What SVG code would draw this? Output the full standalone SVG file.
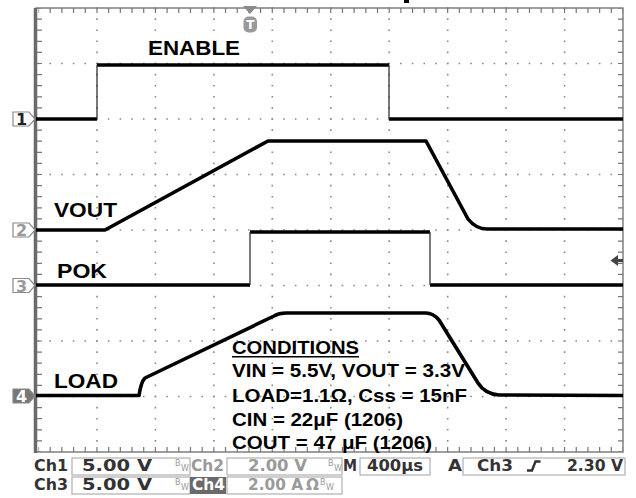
<svg xmlns="http://www.w3.org/2000/svg" width="636" height="498" viewBox="0 0 636 498">
<style>
.grid{stroke:#8a8a8a;stroke-width:1.6;fill:none}
.gh{stroke-dasharray:1.6 10.09}
.gv{stroke-dasharray:1.6 9.5}
.tick{stroke:#777;fill:none}
.trace{stroke:#000;stroke-width:3.6;fill:none;stroke-linejoin:round;stroke-linecap:butt}
.edge{stroke:#333;stroke-width:1.3;fill:none}
.lbl{font-family:"Liberation Sans",Arial,sans-serif;font-weight:bold;fill:#000}
.stat{font-family:"DejaVu Sans",Verdana,sans-serif;font-weight:bold;font-size:15px}
.dk{fill:#333}
.gy{fill:#9a9a9a}
.box{fill:none;stroke:#b0b0b0;stroke-width:1.2}
.bw{font-family:"DejaVu Sans",sans-serif;font-size:8px;fill:#999}
.mk{stroke:#8a8a8a;stroke-width:1.2}
.mkt{font-family:"DejaVu Sans",sans-serif;font-weight:bold;font-size:16px;text-anchor:middle}
</style>
<rect width="636" height="498" fill="#fff"/>
<rect x="404" y="0" width="5" height="3" fill="#000"/>

<g id="graticule">
  <g class="grid gh">
    <line x1="37.7" y1="63.5" x2="623" y2="63.5"/>
    <line x1="37.7" y1="119" x2="623" y2="119"/>
    <line x1="37.7" y1="174.5" x2="623" y2="174.5"/>
    <line x1="37.7" y1="230" x2="623" y2="230"/>
    <line x1="37.7" y1="285.5" x2="623" y2="285.5"/>
    <line x1="37.7" y1="341" x2="623" y2="341"/>
    <line x1="37.7" y1="396.5" x2="623" y2="396.5"/>
  </g>
  <g class="grid gv">
    <line x1="97" y1="7.2" x2="97" y2="452"/>
    <line x1="155.4" y1="7.2" x2="155.4" y2="452"/>
    <line x1="213.9" y1="7.2" x2="213.9" y2="452"/>
    <line x1="272.3" y1="7.2" x2="272.3" y2="452"/>
    <line x1="330.8" y1="7.2" x2="330.8" y2="452"/>
    <line x1="389.2" y1="7.2" x2="389.2" y2="452"/>
    <line x1="447.7" y1="7.2" x2="447.7" y2="452"/>
    <line x1="506.1" y1="7.2" x2="506.1" y2="452"/>
    <line x1="564.6" y1="7.2" x2="564.6" y2="452"/>
  </g>
  <g class="tick">
    <line x1="38.5" y1="10.5" x2="623" y2="10.5" stroke-width="5" stroke-dasharray="1.2 10.49" stroke-dashoffset="0.6"/>
    <line x1="38.5" y1="449.5" x2="623" y2="449.5" stroke-width="5" stroke-dasharray="1.2 10.49" stroke-dashoffset="0.6"/>
    <line x1="39.5" y1="8" x2="39.5" y2="452" stroke-width="5" stroke-dasharray="1.2 9.9" stroke-dashoffset="0.6"/>
    <line x1="620.5" y1="8" x2="620.5" y2="452" stroke-width="5" stroke-dasharray="1.2 9.9" stroke-dashoffset="0.6"/>
  </g>
  <rect x="36" y="8" width="587" height="444" fill="none" stroke="#777" stroke-width="1.4"/>
  <line x1="35.5" y1="8" x2="35.5" y2="453" stroke="#6a6a6a" stroke-width="3.5"/>
</g>

<g id="markers">
  <polygon points="243,6 257,6 250,14" fill="#8a8a8a"/>
  <rect x="243.5" y="16.5" width="13.5" height="16" rx="5" fill="#9a9a9a"/>
  <text x="250.3" y="29" class="mkt" style="font-size:12px;fill:#fff">T</text>
  <polygon points="610.5,260.5 618,255 618,266" fill="#444"/>
  <line x1="616" y1="260.5" x2="623" y2="260.5" stroke="#444" stroke-width="3"/>
  <g id="m1"><polygon points="13,112 29,112 35,119 29,126 13,126" fill="#fff" class="mk"/><text x="21.5" y="125" class="mkt" fill="#222">1</text></g>
  <g id="m2"><polygon points="13,223 29,223 35,230 29,237 13,237" fill="#fff" class="mk"/><text x="21.5" y="236" class="mkt" fill="#999">2</text></g>
  <g id="m3"><polygon points="13,278.5 29,278.5 35,285.5 29,292.5 13,292.5" fill="#fff" class="mk"/><text x="21.5" y="291.5" class="mkt" fill="#999">3</text></g>
  <g id="m4"><polygon points="13,389 29,389 35,396 29,403 13,403" fill="#777" class="mk"/><text x="21.5" y="402" class="mkt" fill="#fff">4</text></g>
</g>

<g id="connectors">
  <g id="trace-enable">
    <path class="trace" d="M36,119 H97 M97,65 H389 M389,119 H623"/>
    <path class="edge" d="M97,119 V65 M389,65 V119"/>
  </g>
  <g id="trace-vout">
    <path class="trace" d="M36,230 L105,230 L268,141 L426,141 L468,219 Q476,229 487,229 L623,229"/>
  </g>
  <g id="trace-pok">
    <path class="trace" d="M36,285 H250 M250,232 H430 M430,285 H623"/>
    <path class="edge" d="M250,285 V232 M430,232 V285"/>
  </g>
  <g id="trace-load">
    <path class="trace" d="M36,395.5 L139,395.5 Q141,382 145,378 L274,316 Q279,313 286,313 L426,313 Q433,313 439,320 L478,383 Q485,394 499,395 L623,395.5"/>
  </g>
</g>

<g id="labels">
  <text class="lbl" x="148" y="55" font-size="21" textLength="92" lengthAdjust="spacingAndGlyphs">ENABLE</text>
  <text class="lbl" x="54" y="217" font-size="21" textLength="63" lengthAdjust="spacingAndGlyphs">VOUT</text>
  <text class="lbl" x="57" y="278" font-size="21" textLength="50" lengthAdjust="spacingAndGlyphs">POK</text>
  <text class="lbl" x="54" y="388" font-size="21" textLength="64" lengthAdjust="spacingAndGlyphs">LOAD</text>
</g>

<g id="conditions">
  <text class="lbl" x="232" y="354" font-size="17.5" textLength="127" lengthAdjust="spacingAndGlyphs">CONDITIONS</text>
  <line x1="232" y1="356.8" x2="359" y2="356.8" stroke="#000" stroke-width="1.6"/>
  <text class="lbl" x="232" y="377" font-size="17.5" textLength="233" lengthAdjust="spacingAndGlyphs">VIN = 5.5V, VOUT = 3.3V</text>
  <text class="lbl" x="232" y="402" font-size="17.5" textLength="235" lengthAdjust="spacingAndGlyphs">LOAD=1.1Ω, Css = 15nF</text>
  <text class="lbl" x="232" y="426" font-size="17.5" textLength="171" lengthAdjust="spacingAndGlyphs">CIN = 22μF (1206)</text>
  <text class="lbl" x="232" y="449" font-size="17.5" textLength="200" lengthAdjust="spacingAndGlyphs">COUT = 47 μF (1206)</text>
</g>

<g id="status">
  <rect class="box" x="72" y="458" width="118" height="17"/>
  <rect class="box" x="227" y="458" width="115" height="17"/>
  <rect class="box" x="360" y="458" width="70" height="17"/>
  <rect class="box" x="463" y="458" width="162" height="17"/>
  <rect class="box" x="72" y="477" width="118" height="17"/>
  <rect x="190" y="477" width="36" height="17" fill="#6a6a6a"/>
  <rect class="box" x="227" y="477" width="115" height="17"/>

  <text class="stat dk" x="34" y="471" textLength="34" lengthAdjust="spacingAndGlyphs">Ch1</text>
  <text class="stat dk" x="82" y="471" textLength="70" lengthAdjust="spacingAndGlyphs">5.00 V</text>
  <text class="bw" x="175" y="466">B</text><text class="bw" x="181" y="471">W</text>
  <text class="stat gy" x="191" y="471" textLength="33" lengthAdjust="spacingAndGlyphs">Ch2</text>
  <text class="stat gy" x="248" y="471" textLength="59" lengthAdjust="spacingAndGlyphs">2.00 V</text>
  <text class="bw" x="328" y="466">B</text><text class="bw" x="334" y="471">W</text>
  <text class="stat dk" x="343" y="471" textLength="14" lengthAdjust="spacingAndGlyphs">M</text>
  <text class="stat dk" x="367" y="471" textLength="56" lengthAdjust="spacingAndGlyphs">400μs</text>
  <text class="stat dk" x="448" y="471" textLength="14" lengthAdjust="spacingAndGlyphs">A</text>
  <text class="stat dk" x="477" y="471" textLength="36" lengthAdjust="spacingAndGlyphs">Ch3</text>
  <path d="M527,470.5 H532 L535.5,461.5 H540.5" fill="none" stroke="#333" stroke-width="2.4"/>
  <text class="stat dk" x="567" y="471" textLength="56" lengthAdjust="spacingAndGlyphs">2.30 V</text>

  <text class="stat dk" x="34" y="490" textLength="34" lengthAdjust="spacingAndGlyphs">Ch3</text>
  <text class="stat dk" x="82" y="490" textLength="70" lengthAdjust="spacingAndGlyphs">5.00 V</text>
  <text class="bw" x="175" y="485">B</text><text class="bw" x="181" y="490">W</text>
  <text class="stat" fill="#fff" x="192" y="490" textLength="33" lengthAdjust="spacingAndGlyphs">Ch4</text>
  <text class="stat gy" x="248" y="490" textLength="55" lengthAdjust="spacingAndGlyphs">2.00 A</text>
  <text class="stat gy" x="306" y="490" textLength="13" lengthAdjust="spacingAndGlyphs">Ω</text>
  <text class="bw" x="320" y="485">B</text><text class="bw" x="326" y="490">W</text>
</g>
</svg>
